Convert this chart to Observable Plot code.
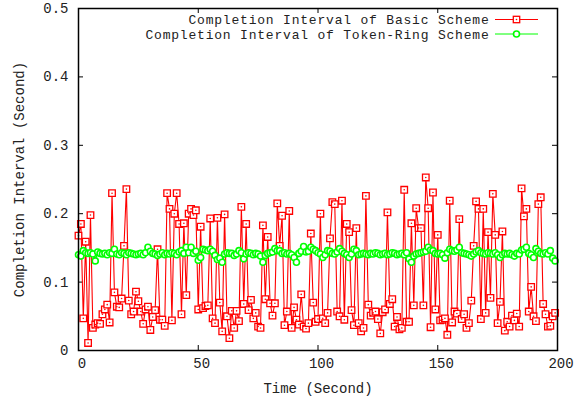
<!DOCTYPE html>
<html><head><meta charset="utf-8">
<script src="https://cdn.jsdelivr.net/npm/d3@7"></script>
<script src="https://cdn.jsdelivr.net/npm/@observablehq/plot@0.6"></script>
<style>
body{margin:0;background:#fff;}
#chart{position:relative;width:583px;height:397px;}
</style></head><body><div id="chart"></div>
<script>
const basicInterval = [
0.168,0.185,0.047,0.159,0.011,0.198,0.033,0.038,0.040,0.039,
0.053,0.060,0.067,0.041,0.230,0.085,0.064,0.063,0.076,0.153,
0.236,0.073,0.053,0.057,0.086,0.072,0.057,0.039,0.060,0.064,
0.030,0.049,0.059,0.148,0.045,0.045,0.036,0.230,0.207,0.044,
0.200,0.230,0.185,0.053,0.186,0.081,0.200,0.207,0.198,0.205,
0.060,0.181,0.062,0.065,0.066,0.193,0.047,0.040,0.194,0.070,
0.028,0.199,0.050,0.018,0.058,0.033,0.058,0.043,0.210,0.068,
0.185,0.059,0.074,0.047,0.055,0.035,0.033,0.183,0.075,0.166,
0.069,0.051,0.069,0.215,0.153,0.197,0.037,0.057,0.204,0.033,
0.063,0.045,0.038,0.082,0.035,0.032,0.040,0.171,0.070,0.042,
0.046,0.200,0.047,0.040,0.055,0.164,0.217,0.214,0.057,0.050,
0.219,0.045,0.185,0.173,0.059,0.037,0.179,0.040,0.028,0.033,
0.226,0.067,0.051,0.055,0.057,0.046,0.025,0.056,0.060,0.202,
0.068,0.075,0.035,0.049,0.031,0.033,0.235,0.042,0.042,0.186,
0.066,0.208,0.179,0.179,0.066,0.253,0.208,0.034,0.231,0.060,
0.169,0.044,0.045,0.047,0.023,0.219,0.041,0.057,0.054,0.192,
0.046,0.053,0.033,0.040,0.073,0.153,0.218,0.207,0.046,0.207,
0.055,0.173,0.077,0.229,0.169,0.040,0.071,0.174,0.029,0.042,
0.035,0.051,0.044,0.054,0.035,0.237,0.196,0.207,0.057,0.093,
0.050,0.043,0.214,0.224,0.068,0.053,0.035,0.036,0.050,0.055];
const tokenRingInterval = [
0.140,0.138,0.146,0.143,0.142,0.143,0.141,0.131,0.144,0.142,
0.141,0.142,0.140,0.143,0.142,0.148,0.141,0.140,0.143,0.142,
0.140,0.143,0.142,0.141,0.140,0.141,0.142,0.140,0.143,0.151,
0.145,0.142,0.141,0.139,0.141,0.143,0.140,0.142,0.141,0.143,
0.142,0.140,0.144,0.146,0.142,0.151,0.143,0.151,0.142,0.145,
0.132,0.136,0.148,0.147,0.146,0.148,0.145,0.139,0.133,0.135,
0.129,0.141,0.143,0.142,0.142,0.139,0.141,0.146,0.143,0.134,
0.141,0.143,0.142,0.140,0.142,0.141,0.138,0.129,0.139,0.142,
0.143,0.144,0.149,0.146,0.146,0.142,0.143,0.141,0.142,0.140,
0.136,0.129,0.142,0.145,0.152,0.144,0.145,0.151,0.148,0.146,
0.143,0.141,0.136,0.140,0.146,0.145,0.142,0.141,0.144,0.149,
0.145,0.142,0.140,0.136,0.141,0.148,0.146,0.140,0.141,0.142,
0.141,0.140,0.142,0.141,0.143,0.142,0.140,0.141,0.142,0.140,
0.141,0.143,0.142,0.140,0.141,0.142,0.140,0.143,0.134,0.129,
0.138,0.141,0.142,0.143,0.144,0.145,0.151,0.147,0.146,0.142,
0.141,0.142,0.140,0.135,0.143,0.148,0.146,0.145,0.147,0.151,
0.143,0.142,0.141,0.140,0.138,0.141,0.144,0.146,0.143,0.142,
0.141,0.143,0.142,0.141,0.143,0.140,0.136,0.140,0.142,0.141,
0.142,0.140,0.138,0.142,0.141,0.147,0.148,0.151,0.142,0.140,
0.136,0.149,0.145,0.142,0.141,0.143,0.141,0.146,0.135,0.131];
const xTicks = [0, 50, 100, 150, 200];
const yTicks = [0, 0.1, 0.2, 0.3, 0.4, 0.5];
const yTickLabels = ["0", "0.1", "0.2", "0.3", "0.4", "0.5"];
const seriesNames = ["Completion Interval of Basic Scheme", "Completion Interval of Token-Ring Scheme"];
const xLabel = "Time (Second)";
const yLabel = "Completion Interval (Second)";

const W = 583, H = 397, mL = 78, mR = 26, mT = 8, mB = 47;
const pw = W - mL - mR, ph = H - mT - mB, tk = 5;
const RED = "#ff0000", GREEN = "#00ff00";
const basic = basicInterval.map((v, i) => ({t: i, v}));
const token = tokenRingInterval.map((v, i) => ({t: i, v}));

const chart = Plot.plot({
  width: W, height: H,
  marginLeft: mL, marginRight: mR, marginTop: mT, marginBottom: mB,
  style: {fontFamily: '"Liberation Mono", monospace', fontSize: "14px", color: "#222", background: "#fff"},
  x: {domain: [0, 200]},
  y: {domain: [0, 0.5]},
  marks: [
    Plot.axisX({ticks: xTicks, tickSize: 0, tickPadding: 8, dx: 3.5, tickFormat: d => String(d),
      label: xLabel, labelAnchor: "center", labelArrow: "none", labelOffset: 42}),
    Plot.axisY({ticks: yTicks, tickSize: 0, tickPadding: 10, tickFormat: d => yTickLabels[yTicks.indexOf(d)],
      label: yLabel, labelAnchor: "center", labelArrow: "none", labelOffset: 64}),
    Plot.tickX(xTicks, {x: d => d, insetTop: ph - tk, stroke: "#000"}),
    Plot.tickX(xTicks, {x: d => d, insetBottom: ph - tk, stroke: "#000"}),
    Plot.tickY(yTicks, {y: d => d, insetRight: pw - tk, stroke: "#000"}),
    Plot.tickY(yTicks, {y: d => d, insetLeft: pw - tk, stroke: "#000"}),
    Plot.line(basic, {x: "t", y: "v", stroke: RED, strokeWidth: 1.1}),
    Plot.dot(basic, {x: "t", y: "v", symbol: "square", r: 3.7, stroke: RED, fill: "#fff", strokeWidth: 1.3}),
    Plot.dot(basic, {x: "t", y: "v", r: 0.8, fill: RED, stroke: "none"}),
    Plot.line(token, {x: "t", y: "v", stroke: GREEN, strokeWidth: 1.1}),
    Plot.dot(token, {x: "t", y: "v", r: 3, stroke: GREEN, fill: "#fff", strokeWidth: 1.6}),
    Plot.frame({stroke: "#000", strokeWidth: 1.5})
  ]
});
document.getElementById("chart").appendChild(chart);

// legend (top-right, inside the frame, gnuplot style)
const svg = d3.select(chart);
const lg = svg.append("g").attr("font-family", '"Liberation Mono", monospace')
  .attr("font-size", 13).attr("letter-spacing", "0.8px").attr("fill", "#222");
const rows = [
  {name: seriesNames[0], color: RED, sym: "square", y: 19.5},
  {name: seriesNames[1], color: GREEN, sym: "circle", y: 34}
];
rows.forEach(r => {
  lg.append("text").attr("x", 489.5).attr("y", r.y).attr("dy", "0.35em").attr("text-anchor", "end").text(r.name);
  lg.append("line").attr("x1", 495).attr("x2", 538).attr("y1", r.y).attr("y2", r.y).attr("stroke", r.color).attr("stroke-width", 1);
  if (r.sym === "square") {
    lg.append("rect").attr("x", 513.3).attr("y", r.y - 3.2).attr("width", 6.4).attr("height", 6.4)
      .attr("fill", "#fff").attr("stroke", r.color).attr("stroke-width", 1.3);
    lg.append("circle").attr("cx", 516.5).attr("cy", r.y).attr("r", 0.8).attr("fill", r.color);
  } else {
    lg.append("circle").attr("cx", 516.5).attr("cy", r.y).attr("r", 3).attr("fill", "#fff")
      .attr("stroke", r.color).attr("stroke-width", 1.6);
  }
});
</script></body></html>
